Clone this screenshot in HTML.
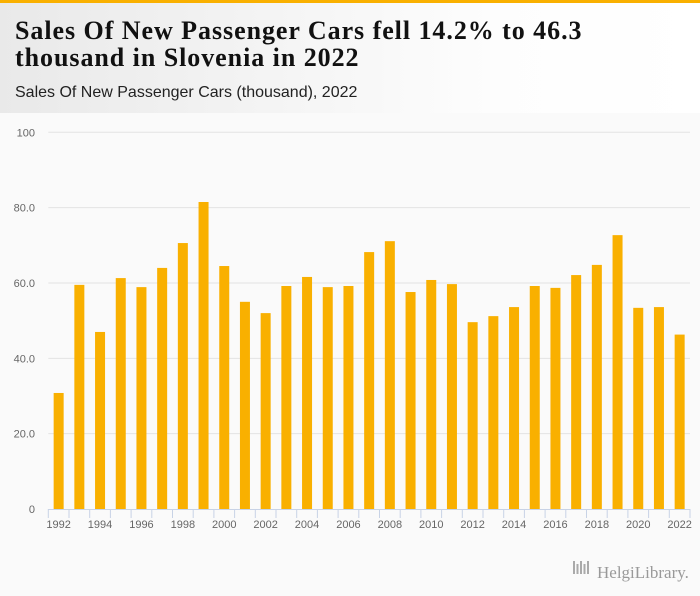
<!DOCTYPE html>
<html><head><meta charset="utf-8"><style>
body{margin:0;width:700px;height:596px;overflow:hidden;background:#fafafa;font-family:"Liberation Sans",sans-serif}
#hdr{position:absolute;left:0;top:0;width:700px;height:113px;background:linear-gradient(90deg,#e9e9e9,#fdfdfd 70%,#fff);border-top:3px solid #f9b000;box-sizing:border-box}
#title{position:absolute;left:15px;top:14px;font:bold 26px/27px "Liberation Serif",serif;color:#111;letter-spacing:0.95px}
#sub{position:absolute;left:15px;top:81px;font:16px "Liberation Sans",sans-serif;color:#222}
svg{position:absolute;left:0;top:0}
</style></head><body>
<div id="hdr">
<div id="title">Sales Of New Passenger Cars fell 14.2% to 46.3<br>thousand in Slovenia in 2022</div>
<div id="sub">Sales Of New Passenger Cars (thousand), 2022</div>
</div>
<svg id="chart" width="700" height="596"></svg>
<script>
const years=[];for(let y=1992;y<=2022;y++)years.push(y);
const values=[30.8,59.5,47.0,61.3,58.9,64.0,70.6,81.5,64.5,55.0,52.0,59.2,61.6,58.9,59.2,68.2,71.1,57.6,60.8,59.7,49.6,51.2,53.6,59.2,58.7,62.1,64.8,72.7,53.4,53.6,46.3];
const yTicks=[0,20,40,60,80,100];
const yTickLabels=["0","20.0","40.0","60.0","80.0","100"];
const NS="http://www.w3.org/2000/svg",svg=document.getElementById('chart');
const x0=48.3,x1=690,y0=509,y1=132.3;
const band=(x1-x0)/years.length;
const yS=v=>y0-(v/100)*(y0-y1);
const xS=i=>x0+i*band;
function mk(t,a){const e=document.createElementNS(NS,t);for(const k in a)e.setAttribute(k,a[k]);svg.appendChild(e);return e;}
yTicks.forEach((t,i)=>{
 if(t>0){const g=mk('line',{x1:x0,x2:x1,y1:yS(t),y2:yS(t),stroke:'#e3e3e3','stroke-width':1});
 
 }
 const l=mk('text',{x:35,y:yS(t)+4,'text-anchor':'end','font-size':'11','fill':'#666','font-family':'Liberation Sans, sans-serif'});
 l.textContent=yTickLabels[i];
 
 
});
values.forEach((v,i)=>{
 const r=mk('rect',{x:xS(i)+band/2-5,y:yS(v),width:10,height:y0-yS(v),fill:'#f9b000'});
 
 
});
const ax=mk('line',{x1:x0,x2:x1,y1:y0+0.5,y2:y0+0.5,stroke:'#c8d3e6','stroke-width':1});


for(let i=0;i<=years.length;i++){
 const t=mk('line',{x1:xS(i),x2:xS(i),y1:y0,y2:y0+9,stroke:'#c8d3e6','stroke-width':1});
 
 
}
years.forEach((y,i)=>{if(i%2)return;
 const l=mk('text',{x:xS(i)+band/2,y:y0+19,'text-anchor':'middle','font-size':'11','fill':'#666','font-family':'Liberation Sans, sans-serif'});
 l.textContent=y;
 
 
});
const lg=mk('g',{});


const lt=document.createElementNS(NS,'text');
lt.setAttribute('x',597);lt.setAttribute('y',578);lt.setAttribute('font-size','17');lt.setAttribute('fill','#999');lt.setAttribute('font-family','Liberation Serif, serif');
lt.textContent='HelgiLibrary.';lg.appendChild(lt);
for(let k=0;k<5;k++){const b=document.createElementNS(NS,'rect');b.setAttribute('x',573+k*3.5);b.setAttribute('y',566-(k%2?2:5));b.setAttribute('width',2);b.setAttribute('height',(k%2?2:5)+8);b.setAttribute('fill','#aaa');lg.appendChild(b);}
</script>
</body></html>
